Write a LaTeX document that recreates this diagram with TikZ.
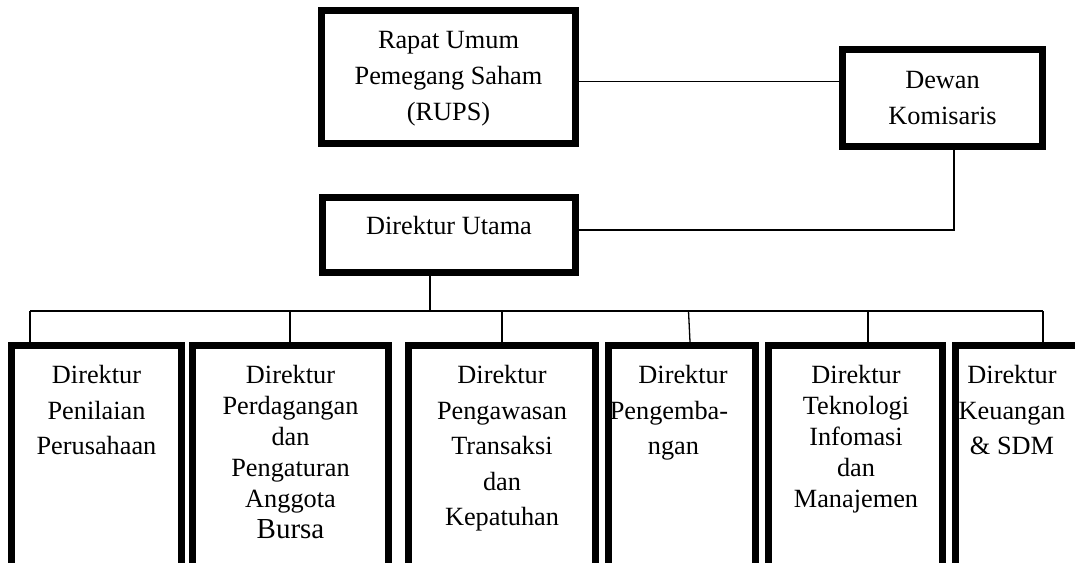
\documentclass[tikz,border=0pt]{standalone}
\usepackage{fontspec}
\setmainfont{Liberation Serif}
\begin{document}
\begin{tikzpicture}[x=1pt,y=-1pt,
  thickbox/.style={draw, line width=7pt, rectangle, inner sep=0pt},
  conn/.style={line width=1.3pt},
  txt/.style={align=center, inner sep=0pt, font=\fontsize{26.3}{35.5}\selectfont},
  txtn/.style={align=center, inner sep=0pt, font=\fontsize{26.3}{31}\selectfont},
  lowbox/.style={thickbox, minimum height=250pt}
  ]
\clip (0,0) rectangle (1075,562);
\fill[white] (0,0) rectangle (1075,562);

% top boxes
\node[thickbox, minimum width=254pt, minimum height=133pt, align=center, inner sep=0pt, font=\fontsize{26.3}{36}\selectfont] (rups) at (448.5,77) {\rule{0pt}{21.5pt}Rapat Umum\\Pemegang Saham\\(RUPS)};
\node[thickbox, minimum width=200pt, minimum height=97pt, txt] (dewan) at (942.5,98) {Dewan\\Komisaris};
\node[thickbox, minimum width=253pt, minimum height=75pt, txt, text height=18pt, text depth=20pt] (dirut) at (449,235) {Direktur Utama};

% bottom boxes
\node[lowbox, minimum width=170pt] (b1) at (96.5,470.5) {};
\node[lowbox, minimum width=196pt] (b2) at (290.5,470.5) {};
\node[lowbox, minimum width=187pt] (b3) at (502,470.5) {};
\node[lowbox, minimum width=147pt] (b4) at (682,470.5) {};
\node[lowbox, minimum width=174pt] (b5) at (855.5,470.5) {};
\node[lowbox, minimum width=131pt] (b6) at (1021,470.5) {};

% texts of bottom boxes
\node[txt, anchor=north] (t1) at (96.5,365.2) {Direktur\\Penilaian\\Perusahaan};
\node[txtn, anchor=north] (t2) at (290.5,365.2) {Direktur\\Perdagangan\\dan\\Pengaturan\\Anggota\\{\fontsize{29}{32}\selectfont Bursa}};
\node[txt, anchor=north] (t3) at (502,365.2) {Direktur\\Pengawasan\\Transaksi\\dan\\Kepatuhan};
\node[txt, anchor=north] (t4) at (669,365.2) {\hspace*{28pt}Direktur\\Pengemba-\\\hspace*{9pt}ngan};
\node[txtn, anchor=north] (t5) at (856,365.2) {Direktur\\Teknologi\\Infomasi\\dan\\Manajemen};
\node[txt, anchor=north] (t6) at (1012,365.2) {Direktur\\Keuangan\\\& SDM};

% connectors
\coordinate (h) at (700,81.5);
\draw[conn] (rups.east |- h) -- (dewan.west |- h);
\coordinate (k) at (954,230);
\draw[conn] (dewan.south -| k) -- (k) -- (dirut.east |- k);
\coordinate (bj) at (430,311);
\draw[conn] (dirut.south -| bj) -- (bj);
\coordinate (d1) at (30,311);
\coordinate (d2) at (290,311);
\coordinate (d3) at (502,311);
\coordinate (d4) at (688.5,311);
\coordinate (d5) at (868,311);
\coordinate (d6) at (1043,311);
\draw[conn] (d1) -- (d6);
\draw[conn] (d1) -- (d1 |- b1.north);
\draw[conn] (d2) -- (d2 |- b2.north);
\draw[conn] (d3) -- (d3 |- b3.north);
\draw[conn] (d4) -- ([xshift=8pt]b4.north);
\draw[conn] (d5) -- (d5 |- b5.north);
\draw[conn] (d6) -- (d6 |- b6.north);
\end{tikzpicture}
\end{document}
